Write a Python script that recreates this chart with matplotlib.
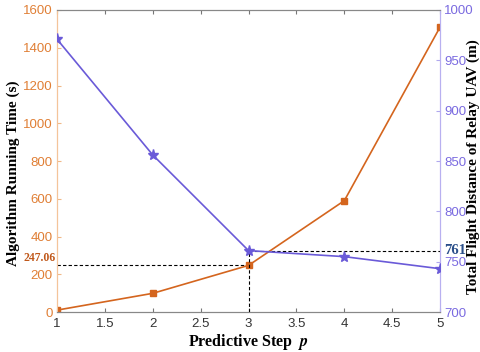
import matplotlib
matplotlib.use("Agg")
import matplotlib.pyplot as plt

plt.rcParams['mathtext.fontset'] = 'stix'

# data
steps = [1, 2, 3, 4, 5]
run_time = [10, 99, 247.06, 590, 1510]
flight_dist = [971, 856, 761, 755, 743]

orange = '#d4651e'
purple = '#6a5ad8'
serif = ['Liberation Serif', 'DejaVu Serif']
sans = ['Liberation Sans', 'DejaVu Sans']

fig = plt.figure(figsize=(4.81, 3.52), dpi=100)
ax = fig.add_axes([0.1185, 0.1136, 0.7965, 0.858])
ax2 = ax.twinx()

ax.plot(steps, run_time, color=orange, marker='s', markersize=5, lw=1.2, zorder=3)
ax2.plot(steps, flight_dist, color=purple, marker='*', markersize=8, lw=1.2, zorder=3)

# dashed guide lines at p = 3
ax.plot([1, 3], [run_time[2], run_time[2]], 'k--', lw=0.8, dashes=(3, 2))
ax2.plot([3, 3], [700, flight_dist[2]], 'k--', lw=0.8, dashes=(3, 2))
ax2.plot([3, 5], [flight_dist[2], flight_dist[2]], 'k--', lw=0.8, dashes=(3, 2))

ax.set_xlim(1, 5)
ax.set_ylim(0, 1600)
ax2.set_ylim(700, 1000)
ax.set_xticks([1, 1.5, 2, 2.5, 3, 3.5, 4, 4.5, 5])
ax.set_xticklabels(['1', '1.5', '2', '2.5', '3', '3.5', '4', '4.5', '5'], family=sans, fontsize=9.5, color='#333333')
ax.set_yticks(range(0, 1601, 200))
ax.set_yticklabels([str(v) for v in range(0, 1601, 200)], family=sans, fontsize=9.5, color='#e07f35')
ax2.set_yticks(range(700, 1001, 50))
ax2.set_yticklabels([str(v) for v in range(700, 1001, 50)], family=sans, fontsize=9.5, color='#7a6ae0')

ax.tick_params(axis='x', direction='in', length=3, top=True, color='#777777', pad=4)
ax.tick_params(axis='y', direction='in', length=3, color='#f0b888', pad=3)
ax2.tick_params(axis='y', direction='in', length=3, color='#b0a8ee', pad=3)

for a in (ax, ax2):
    a.spines['top'].set_color('#888888')
    a.spines['bottom'].set_color('#888888')
    a.spines['left'].set_color('#f4c49a')
    a.spines['right'].set_color('#b8b0f0')

ax.set_xlabel('Predictive Step  $\\boldsymbol{p}$', family=serif, fontsize=11.5, fontweight='bold', labelpad=2)
ax.set_ylabel('Algorithm Running Time (s)', family=serif, fontsize=11, fontweight='bold')
ax.yaxis.set_label_coords(-0.097, 0.46)
ax2.set_ylabel('Total Flight Distance of Relay UAV (m)', family=serif, fontsize=11, fontweight='bold')
ax2.yaxis.set_label_coords(1.07, 0.48)

ax.text(-0.004, run_time[2] + 40, '247.06', transform=ax.get_yaxis_transform(), ha='right', va='center',
        family=serif, fontsize=8.5, fontweight='bold', color='#c0581a')
ax2.text(1.01, flight_dist[2], '761', transform=ax2.get_yaxis_transform(), ha='left', va='center',
         family=serif, fontsize=10.5, fontweight='bold', color='#2a4f8a')

fig.savefig('out.png', dpi=100)
